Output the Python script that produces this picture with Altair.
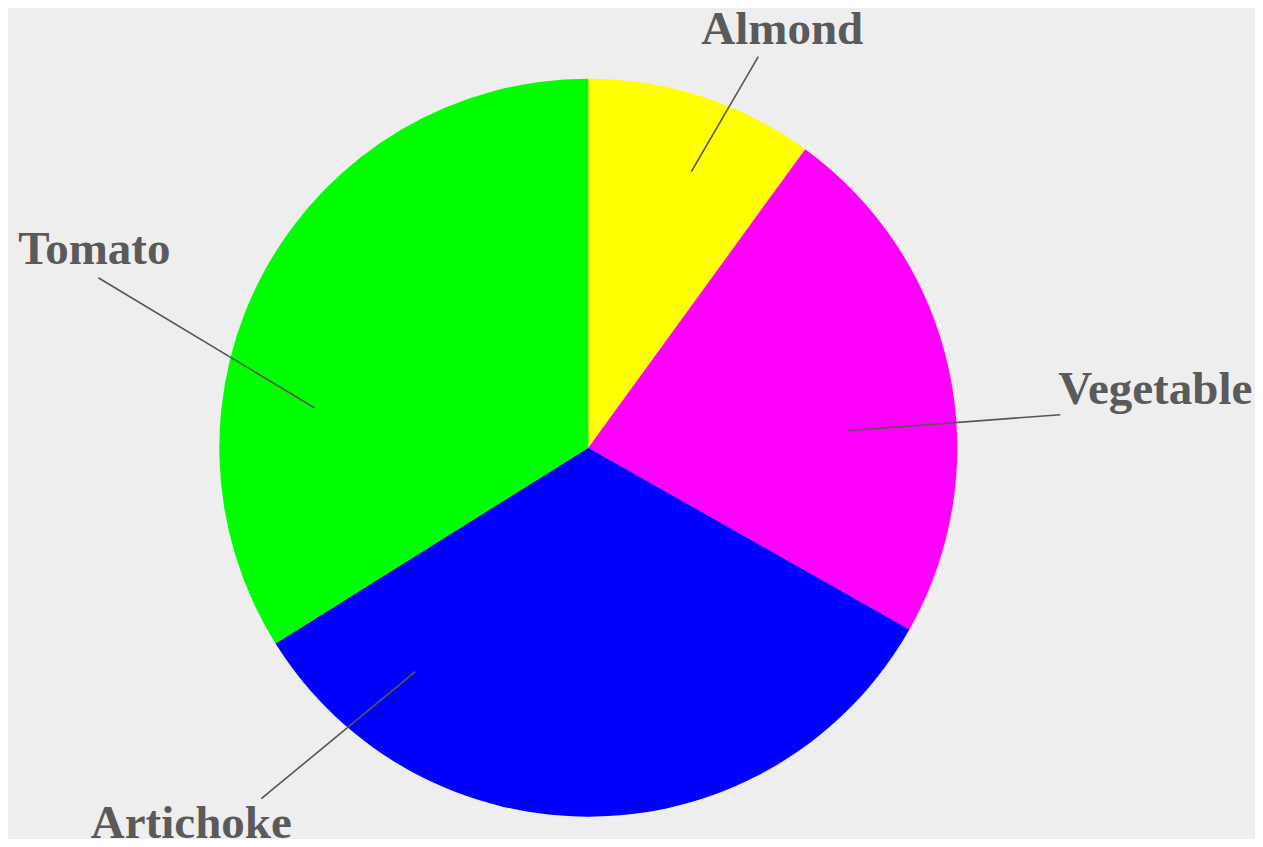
import altair as alt
import pandas as pd

# ---- data (clockwise from 12 o'clock) ----
categories = ["Almond", "Vegetable", "Artichoke", "Tomato"]
values = [10.0, 23.2, 32.9, 33.9]
colors = ["#ffff00", "#ff00ff", "#0000ff", "#00ff00"]

# ---- layout ----
W, H = 1247, 831
CX, CY, R = 580.3, 439.7, 369

# label annotation layout: offsets (px) from the pie centre
line_start = [(103, -276), (259, -17), (-173, 224), (-274, -40)]
line_end = [(170, -391), (472, -33), (-327, 351), (-490, -170)]
text_pos = [(194, -404), (567, -44), (-397, 390), (-494, -184)]

df = pd.DataFrame({
    "category": categories,
    "value": values,
    "order": list(range(len(categories))),
})

ann = pd.DataFrame({
    "category": categories,
    "x1": [CX + p[0] for p in line_start],
    "y1": [CY + p[1] for p in line_start],
    "x2": [CX + p[0] for p in line_end],
    "y2": [CY + p[1] for p in line_end],
    "tx": [CX + p[0] for p in text_pos],
    "ty": [CY + p[1] for p in text_pos],
})

arcs = alt.Chart(df).mark_arc(outerRadius=R).encode(
    theta=alt.Theta("value:Q", stack=True),
    color=alt.Color("category:N",
                    scale=alt.Scale(domain=categories, range=colors),
                    legend=None),
    order=alt.Order("order:Q"),
    x=alt.value(CX),
    y=alt.value(CY),
)

lines = alt.Chart(ann).mark_rule(color="#555555", strokeWidth=1.6).encode(
    x=alt.X("x1:Q", scale=None, axis=None),
    y=alt.Y("y1:Q", scale=None, axis=None),
    x2="x2:Q",
    y2="y2:Q",
)

labels = alt.Chart(ann).mark_text(
    font="Liberation Serif", fontWeight="bold", fontSize=47,
    color="#5a5a5a", align="center", baseline="alphabetic",
).encode(
    x=alt.X("tx:Q", scale=None, axis=None),
    y=alt.Y("ty:Q", scale=None, axis=None),
    text="category:N",
)

chart = alt.layer(arcs, lines, labels).properties(
    width=W, height=H, padding=0, autosize="none", background="#eeeeee",
).configure_view(stroke=None)

chart.save("out.html", embed_options={"renderer": "svg", "actions": False})
